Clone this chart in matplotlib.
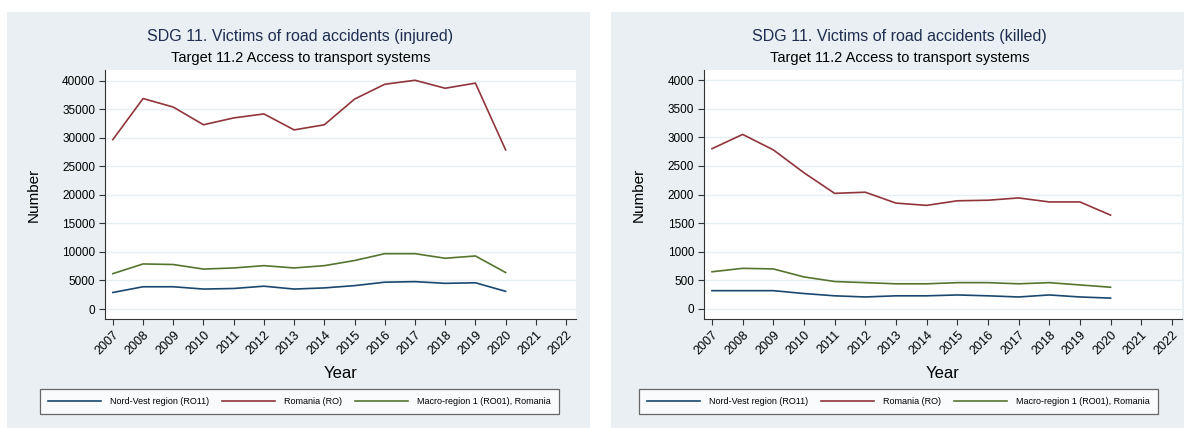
import matplotlib.pyplot as plt
from matplotlib.patches import Rectangle
from matplotlib.lines import Line2D

plt.rcParams['font.family'] = ['Liberation Sans', 'DejaVu Sans']

# data
years = list(range(2007, 2021))
tick_years = list(range(2007, 2023))

injured_nord_vest = [2900, 3900, 3900, 3500, 3600, 4000, 3500, 3700, 4100, 4700, 4800, 4500, 4600, 3100]
injured_romania = [29700, 36900, 35400, 32300, 33500, 34200, 31400, 32300, 36800, 39400, 40100, 38700, 39600, 27900]
injured_macro = [6200, 7900, 7800, 7000, 7200, 7600, 7200, 7600, 8500, 9700, 9700, 8900, 9300, 6400]

killed_nord_vest = [320, 320, 320, 270, 230, 210, 230, 230, 245, 230, 210, 245, 210, 190]
killed_romania = [2800, 3050, 2780, 2380, 2020, 2040, 1850, 1810, 1890, 1900, 1940, 1870, 1870, 1640]
killed_macro = [650, 710, 700, 560, 480, 460, 440, 440, 460, 460, 440, 460, 420, 380]

series_names = ['Nord-Vest region (RO11)', 'Romania (RO)', 'Macro-region 1 (RO01), Romania']
series_colors = ['#1a476f', '#90353b', '#55752f']

W, H = 1184, 428
bg = '#e9eff2'
title_color = '#1e2d50'

fig = plt.figure(figsize=(W / 100, H / 100), dpi=100)


def fx(px):
    return px / W


def fy(py):
    return 1 - py / H


panels = [
    dict(x0=7, x1=590, ax_l=105, ax_r=576, title='SDG 11. Victims of road accidents (injured)',
         series=[injured_nord_vest, injured_romania, injured_macro],
         yticks=range(0, 40001, 5000), ylim=(-1750, 41900), ylab_x=34),
    dict(x0=611, x1=1184, ax_l=704, ax_r=1182, title='SDG 11. Victims of road accidents (killed)',
         series=[killed_nord_vest, killed_romania, killed_macro],
         yticks=range(0, 4001, 500), ylim=(-175, 4175), ylab_x=639),
]

for p in panels:
    # grey panel background, kept behind the axes
    fig.patches.append(Rectangle((fx(p['x0']), fy(428)), fx(p['x1']) - fx(p['x0']), fy(12) - fy(428),
                                 transform=fig.transFigure, facecolor=bg, edgecolor='none', zorder=-10))

    ax = fig.add_axes([fx(p['ax_l']), fy(319), fx(p['ax_r']) - fx(p['ax_l']), (319 - 70) / H])
    ax.set_facecolor('white')
    for vals, name, col in zip(p['series'], series_names, series_colors):
        ax.plot(years, vals, color=col, lw=1.2, label=name)

    ax.set_xlim(2006.74, 2022.33)
    ax.set_ylim(*p['ylim'])
    ax.set_xticks(tick_years)
    ax.set_xticklabels([str(y) for y in tick_years], rotation=45, ha='right', rotation_mode='anchor')
    ax.set_yticks(list(p['yticks']))
    ax.tick_params(axis='both', length=4, width=0.8, color='#333333', pad=3)
    ax.tick_params(axis='y', labelsize=8.5)
    ax.tick_params(axis='x', labelsize=9)
    ax.grid(axis='y', color='#e6eff1', lw=1)
    ax.set_axisbelow(True)
    for s in ['top', 'right']:
        ax.spines[s].set_visible(False)
    for s in ['left', 'bottom']:
        ax.spines[s].set_color('#333333')
        ax.spines[s].set_linewidth(0.8)

    cx_panel = (p['x0'] + p['x1']) / 2
    cx_plot = (p['ax_l'] + p['ax_r']) / 2
    fig.text(fx(cx_panel + 2), fy(36), p['title'], ha='center', va='center', fontsize=11.5, color=title_color)
    fig.text(fx(cx_panel + 2), fy(58), 'Target 11.2 Access to transport systems', ha='center', va='center',
             fontsize=10.5, color='black')
    fig.text(fx(cx_plot), fy(373), 'Year', ha='center', va='center', fontsize=12)
    fig.text(fx(p['ylab_x']), fy(195), 'Number', ha='center', va='center', fontsize=11, rotation=90)

    handles = [Line2D([], [], color=c, lw=1.2) for c in series_colors]
    leg = fig.legend(handles, series_names, loc='center', bbox_to_anchor=(fx(cx_panel + 1), fy(401.5)),
                     ncol=3, fontsize=6.5, handlelength=5.8, handletextpad=1.0, columnspacing=1.5,
                     borderpad=0.9, frameon=True, fancybox=False)
    leg.get_frame().set_edgecolor('#444444')
    leg.get_frame().set_linewidth(0.9)

fig.savefig('out.png', dpi=100)
